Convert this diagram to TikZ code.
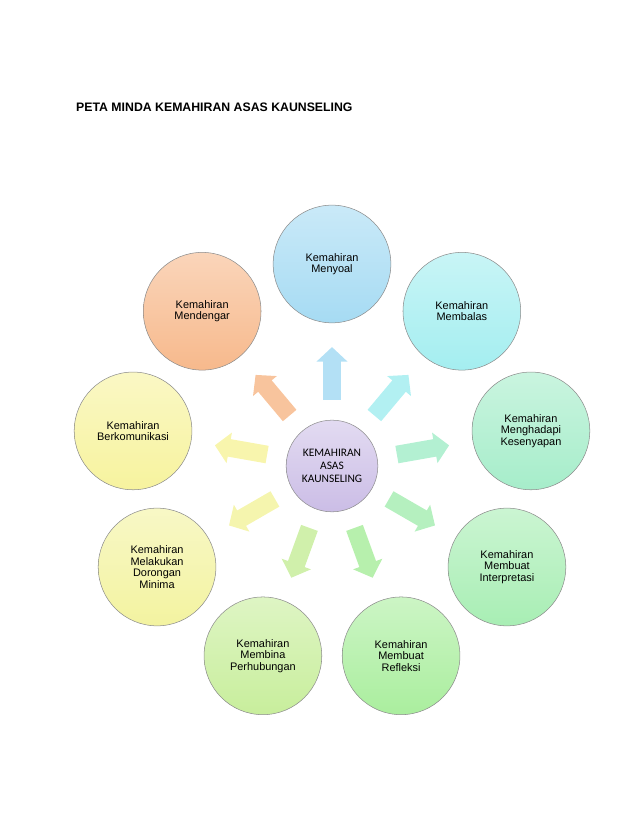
\documentclass[tikz,border=0pt]{standalone}
\usepackage{fontspec}
\setmainfont{Liberation Sans}
\newfontfamily\hubfont{Carlito}
\usepackage{xcolor}
\usepackage{tikz}
\usetikzlibrary{arrows.meta,calc}

\definecolor{soalblue}{HTML}{A6DBF3}
\definecolor{balascyan}{HTML}{A4EEF0}
\definecolor{senyapmint}{HTML}{A6EDCA}
\definecolor{tafsirgreen}{HTML}{A8EEB4}
\definecolor{refleksigreen}{HTML}{AAEE9E}
\definecolor{hubungyellow}{HTML}{C8EE9C}
\definecolor{dorongyellow}{HTML}{F3F3A0}
\definecolor{komyellow}{HTML}{F7F39E}
\definecolor{dengarorange}{HTML}{F7B98C}
\definecolor{hubpurple}{HTML}{CBBDE6}

\begin{document}
\begin{tikzpicture}[
  x=0.96pt, y=0.96pt,
  skill/.style={
    circle,
    draw=black!45,
    line width=0.5pt,
    minimum size=113pt,
    inner sep=0pt,
    align=center,
    font=\fontsize{10.5}{11}\selectfont
  },
  hub/.style={skill, minimum size=88pt,
    font=\hubfont\fontsize{11}{12.5}\selectfont,
    top color=hubpurple!55!white, bottom color=hubpurple},
  spoke/.style={
    line width=17pt,
    -{Triangle[length=14pt,width=29pt]},
    shorten <=19pt,
    shorten >=23pt
  },
  title/.style={anchor=base west, inner sep=0pt,
    font=\bfseries\fontsize{11.8}{13}\selectfont}
]
  \useasboundingbox (0,0) rectangle (638,826);

  % Heading
  \node[title] (head) at (76,714) {PETA MINDA KEMAHIRAN ASAS KAUNSELING};

  % Centre
  \node[hub] (hub) at (332,360) {KEMAHIRAN\\ASAS\\KAUNSELING};

  % Skills round the centre
  \foreach \ang/\col/\txt [count=\i] in {
    90/soalblue/{Kemahiran\\Menyoal},
    50/balascyan/{Kemahiran\\Membalas},
    10/senyapmint/{Kemahiran\\Menghadapi\\Kesenyapan},
    -30/tafsirgreen/{Kemahiran\\Membuat\\Interpretasi},
    -70/refleksigreen/{Kemahiran\\Membuat\\Refleksi},
    -110/hubungyellow/{Kemahiran\\Membina\\Perhubungan},
    -150/dorongyellow/{Kemahiran\\Melakukan\\Dorongan\\Minima},
    170/komyellow/{Kemahiran\\Berkomunikasi},
    130/dengarorange/{Kemahiran\\Mendengar}}
  {
    \node[skill, top color=\col!60!white, bottom color=\col]
      (s\i) at ($(hub)+(\ang:202)$) {\txt};
    \draw[spoke, \col!85!white] (hub) -- (s\i);
  }
\end{tikzpicture}
\end{document}
